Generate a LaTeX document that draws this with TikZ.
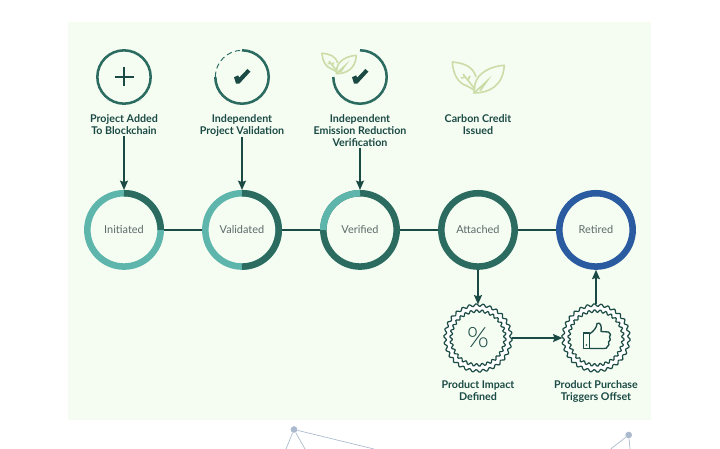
\documentclass[tikz,border=0pt]{standalone}
\usepackage{fontspec}
\setmainfont{Lato}
\newfontfamily\percentfont{Lato Light}
\usetikzlibrary{arrows.meta}
\definecolor{panelgreen}{RGB}{245,253,243}
\definecolor{lightteal}{RGB}{93,181,171}
\definecolor{darkteal}{RGB}{44,107,96}
\definecolor{retiredblue}{RGB}{42,91,160}
\definecolor{inkgreen}{RGB}{27,74,68}
\definecolor{labelgrey}{RGB}{94,107,106}
\definecolor{leafgreen}{RGB}{203,220,166}
\definecolor{meshblue}{RGB}{170,185,205}
\tikzset{
  statering/.style={circle,draw=#1,line width=4.9pt,minimum size=55pt,inner sep=0pt,text=labelgrey,font=\fontsize{8.2}{10}\selectfont},
  ringpart/.style={draw=#1,line width=4.9pt},
  iconring/.style={circle,draw=darkteal,line width=1.9pt,minimum size=40pt,inner sep=0pt},
  iconblank/.style={circle,minimum size=41.5pt,inner sep=0pt},
  iconarc/.style={draw=darkteal,line width=1.9pt},
  stepnote/.style={anchor=north,inner sep=0.75pt,align=center,text=inkgreen,font=\fontsize{8}{9}\selectfont\bfseries},
  badgenode/.style={circle,minimum size=50pt,inner sep=0pt,text=inkgreen},
  badgeline/.style={draw=inkgreen,line width=0.9pt},
  linkline/.style={draw=inkgreen,line width=1.6pt},
  linkarrow/.style={draw=inkgreen,line width=1pt,-{Stealth[length=7pt,width=6pt,inset=1pt]}},
  meshline/.style={draw=meshblue,line width=0.5pt},
  tick/.pic={\fill[inkgreen] (-8,0.2) -- (-3.8,-1.6) -- (-2.8,0.6) -- (5.4,-8) -- (8.4,-5.4) -- (-2.6,6.6) -- (-6,6.6) -- cycle;},
  leaves/.pic={
    \draw[leafgreen,line width=1.2pt,line join=round] (1,-15) .. controls (-2,-26) and (-12,-29) .. (-22.7,-30) .. controls (-22,-18) and (-17,-9) .. (-9,-6.5) .. controls (-6,-5) and (-3,-3.5) .. (-1,-2);
    \draw[leafgreen,line width=1.2pt,line join=round] (29.3,-26.7) .. controls (17,-26) and (3,-20) .. (0,-8) -- (-1,1) .. controls (14,1) and (28,-6) .. (29.3,-26.7) -- cycle;
    \draw[leafgreen,line width=1.2pt] (-1,1) -- (12,-11) -- (5,-1);
    \draw[leafgreen,line width=1.2pt] (-12,-18) -- (-1,-4) (-7,-12) -- (-5,-16) (-9,-15) -- (-14,-14);
  }
}
\newcommand{\wavyring}[3]{plot[smooth cycle,domain=0:358,samples=180] ({#1+(#3+1.3*sin(30*\x))*cos(\x)},{#2+(#3+1.3*sin(30*\x))*sin(\x)})}
\begin{document}
\begin{tikzpicture}[x=0.75pt,y=0.75pt,yscale=-1,xscale=1]
\useasboundingbox (0,0) rectangle (720,449);

%Shape: Rectangle
\fill [panelgreen] (68,22) rectangle (651,420);

% Mesh nodes
\draw (294,429.5) node [circle,fill=meshblue,inner sep=0pt,minimum size=5pt] (meshleft) {};
\draw (628.7,435) node [circle,fill=meshblue,inner sep=0pt,minimum size=5pt] (meshright) {};
\coordinate (meshleftone) at (286,449);
\coordinate (meshlefttwo) at (305,449);
\coordinate (meshleftthree) at (374,449);
\coordinate (meshrightone) at (610.7,449);
\coordinate (meshrighttwo) at (630,449);
\draw [meshline] (meshleft) -- (meshleftone);
\draw [meshline] (meshleft) -- (meshlefttwo);
\draw [meshline] (meshleft) -- (meshleftthree);
\draw [meshline] (meshright) -- (meshrightone);
\draw [meshline] (meshright) -- (meshrighttwo);

% State Nodes
\draw (124,229.9) node [statering=lightteal] (initiated) {Initiated};
\draw (242,229.9) node [statering=lightteal] (validated) {Validated};
\draw (360,229.9) node [statering=darkteal] (verified) {Verified};
\draw (478,229.9) node [statering=darkteal] (attached) {Attached};
\draw (596,229.9) node [statering=retiredblue] (retired) {Retired};

%Shape: Arc
\draw [ringpart=darkteal] (initiated.center) ++(-90:36.7) arc [start angle=-90,end angle=0,radius=36.7];
\draw [ringpart=darkteal] (validated.center) ++(-90:36.7) arc [start angle=-90,end angle=90,radius=36.7];
\draw [ringpart=lightteal] (verified.center) ++(180:36.7) arc [start angle=180,end angle=270,radius=36.7];

%Straight Lines
\draw [linkline] (initiated) -- (validated);
\draw [linkline] (validated) -- (verified);
\draw [linkline] (verified) -- (attached);
\draw [linkline] (attached) -- (retired);

% Icon Nodes
\draw (124,77) node [iconring] (addedicon) {};
\draw (242,77) node [iconblank] (validationicon) {};
\draw (360,77) node [iconblank] (verificationicon) {};

\draw [draw=inkgreen,line width=2pt] (addedicon.center) +(-9.5,0) -- +(9.5,0) +(0,-9.5) -- +(0,9.5);
\draw [iconarc] (validationicon.center) ++(-90:26.7) arc [start angle=-90,end angle=180,radius=26.7];
\draw [draw=darkteal,line width=0.7pt,dash pattern={on 4pt off 2.5pt}] (validationicon.center) ++(180:26.7) arc [start angle=180,end angle=270,radius=26.7];
\draw [iconarc] (verificationicon.center) ++(-90:26.7) arc [start angle=-90,end angle=180,radius=26.7];
\pic [yscale=-1] at (validationicon.center) {tick};
\pic [yscale=-1] at (verificationicon.center) {tick};
\pic [scale=0.66,yscale=-1] at (337,73) {leaves};
\pic [yscale=-1] at (475,92) {leaves};

% Text Node
\draw (124,113) node [stepnote] (addednote) {Project Added\\To Blockchain};
\draw (242,113) node [stepnote] (validationnote) {Independent\\Project Validation};
\draw (360,113) node [stepnote] (verificationnote) {Independent\\Emission Reduction\\Verification};
\draw (478,113) node [stepnote] (creditnote) {Carbon Credit\\Issued};

%Straight Lines
\draw [linkarrow] (addednote) -- (initiated);
\draw [linkarrow] (validationnote) -- (validated);
\draw [linkarrow] (verificationnote) -- (verified);

% Badge Rings
\fill [white] \wavyring{478}{338}{33};
\draw [badgeline,fill=panelgreen] \wavyring{478}{338}{27};
\draw [badgeline] \wavyring{478}{338}{33};
\fill [white] \wavyring{596}{338}{33};
\draw [badgeline,fill=panelgreen] \wavyring{596}{338}{27};
\draw [badgeline] \wavyring{596}{338}{33};

% Badge Nodes
\draw (478,338) node [badgenode,font=\percentfont\fontsize{21}{24}\selectfont] (impact) {\%};
\draw (596,338) node [badgenode] (purchase) {};

%Shape: Thumb
\draw [draw=inkgreen,line width=1pt,line join=round] (583.3,333) rectangle (589.5,348.5);
\draw [draw=inkgreen,line width=1pt,line join=round] (589.5,334) .. controls (594,331) and (597,327) .. (597,323.5) .. controls (600,322) and (602,325) .. (601,331.5) -- (608.5,332) .. controls (611,333) and (611,336) .. (609.5,337) .. controls (611,339) and (610.5,341) .. (608.5,342) .. controls (609.5,344) and (609,346) .. (607,347) .. controls (607.5,348) and (606,348.5) .. (604,348.5) -- (589.5,348.5);
\fill [inkgreen] (586.5,345) circle (0.8);

% Text Node
\draw (478,379.5) node [stepnote] (impactnote) {Product Impact\\Defined};
\draw (596,379.5) node [stepnote] (purchasenote) {Product Purchase\\Triggers Offset};

%Straight Lines
\draw [linkarrow] (attached) -- (impact);
\draw [linkarrow] (impact) -- (purchase);
\draw [linkarrow] (purchase) -- (retired);

\end{tikzpicture}
\end{document}
